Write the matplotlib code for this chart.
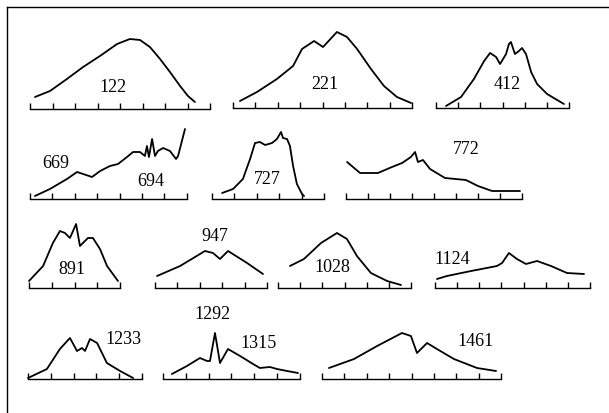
import matplotlib
matplotlib.use("Agg")
import matplotlib.pyplot as plt
from matplotlib.lines import Line2D

# curve values: x in tick intervals along each axis, y = height above the axis
x122 = [0.22, 0.89, 1.64, 2.36, 3.11, 3.87, 4.44, 4.89, 5.33, 5.78, 6.22, 6.67, 7.02, 7.33]
y122 = [12, 18, 30, 42, 53, 65, 70, 69, 62, 50, 37, 23, 13, 7]

x221 = [0.31, 1.07, 1.96, 2.68, 3.08, 3.62, 4.02, 4.64, 5.09, 5.54, 6.16, 6.74, 7.32, 7.95]
y221 = [7, 16, 29, 42, 59, 67, 61, 76, 71, 59, 39, 22, 11, 5]

x412 = [0.45, 1.13, 1.71, 2.17, 2.44, 2.71, 2.89, 3.16, 3.29, 3.38, 3.56, 3.74, 3.88, 4.06, 4.29, 4.56, 5.01, 5.77]
y412 = [2, 11, 29, 47, 55, 51, 44, 54, 64, 66, 54, 57, 60, 54, 36, 24, 14, 4]

x669 = [0.22, 0.89, 1.65, 2.1, 2.37, 2.77, 3.13, 3.57, 3.93, 4.33, 4.6, 4.91, 5.13, 5.22,
        5.31, 5.45, 5.58, 5.71, 5.94, 6.25, 6.52, 6.61, 6.92]
y669 = [3, 10, 20, 27, 25, 22, 28, 33, 35, 42, 47, 47, 43, 53, 42, 60, 43, 48, 51, 48, 40, 43, 70]

x727 = [0.45, 0.94, 1.38, 1.7, 1.92, 2.14, 2.37, 2.68, 2.9, 3.08, 3.17, 3.35, 3.48, 3.62, 3.79, 4.02, 4.11]
y727 = [6, 10, 20, 40, 56, 57, 54, 56, 60, 67, 61, 60, 53, 33, 15, 5, 3]

x772 = [0.05, 0.64, 1.45, 2.09, 2.55, 2.95, 3.14, 3.27, 3.5, 3.82, 4.5, 5.45, 6.0, 6.64, 7.09, 7.91]
y772 = [37, 26, 26, 32, 36, 42, 47, 37, 39, 30, 21, 19, 13, 8, 8, 8]

x891 = [0.0, 0.62, 1.05, 1.36, 1.58, 1.8, 2.07, 2.24, 2.59, 2.81, 3.12, 3.43, 3.91]
y891 = [7, 22, 45, 57, 55, 50, 64, 42, 50, 50, 39, 22, 7]

x947 = [0.09, 1.12, 2.23, 2.59, 2.9, 3.26, 4.11, 4.82]
y947 = [12, 22, 37, 35, 29, 37, 25, 14]

x1028 = [0.54, 1.17, 1.94, 2.66, 3.11, 3.56, 4.19, 4.92, 5.55]
y1028 = [22, 29, 45, 55, 49, 32, 15, 7, 3]

x1124 = [0.09, 0.54, 1.63, 2.8, 3.03, 3.34, 3.7, 4.11, 4.61, 5.24, 5.96, 6.73]
y1124 = [9, 12, 17, 22, 25, 35, 29, 24, 27, 22, 15, 14]

x1233 = [0.0, 0.83, 1.4, 1.84, 2.15, 2.37, 2.5, 2.72, 3.03, 3.46, 4.04, 4.61]
y1233 = [1, 10, 30, 41, 28, 31, 28, 40, 36, 16, 8, 1]

x1315 = [0.39, 1.05, 1.62, 1.93, 2.06, 2.28, 2.5, 2.85, 3.38, 3.95, 4.25, 4.69, 5.0, 5.44, 5.92]
y1315 = [5, 13, 21, 18, 18, 46, 16, 30, 23, 15, 11, 12, 10, 8, 6]

x1461 = [0.31, 1.43, 2.46, 3.57, 3.97, 4.24, 4.69, 5.13, 5.89, 6.92, 7.77]
y1461 = [11, 20, 33, 46, 43, 26, 36, 30, 20, 11, 8]

# labels: text, x (tick units), height
lab122 = [("122", 3.69, 22)]
lab221 = [("221", 4.1, 24)]
lab412 = [("412", 3.2, 24)]
lab669 = [("669", 1.16, 37), ("694", 5.4, 18)]
lab727 = [("727", 2.46, 20)]
lab772 = [("772", 5.45, 50)]
lab891 = [("891", 1.89, 20)]
lab947 = [("947", 2.68, 52)]
lab1028 = [("1028", 2.44, 22)]
lab1124 = [("1124", 0.77, 29)]
lab1233 = [("1233", 4.17, 40)]
lab1315 = [("1292", 2.19, 65), ("1315", 4.17, 36)]
lab1461 = [("1461", 6.87, 38)]

W, H = 609, 414
fig = plt.figure(figsize=(W / 100, H / 100), dpi=100)

# layout (pixels): left, n ticks, tick spacing, baseline y
panels = [
    (30, 9, 22.5, 110, x122, y122, lab122),
    (233, 9, 22.4, 109, x221, y221, lab221),
    (436, 7, 22.17, 109, x412, y412, lab412),
    (30, 8, 22.4, 200, x669, y669, lab669),
    (212, 6, 22.4, 200, x727, y727, lab727),
    (346, 9, 22.0, 200, x772, y772, lab772),
    (29, 5, 22.75, 289, x891, y891, lab891),
    (155, 6, 22.4, 289, x947, y947, lab947),
    (278, 7, 22.17, 289, x1028, y1028, lab1028),
    (435, 8, 22.14, 289, x1124, y1124, lab1124),
    (28, 6, 22.8, 380, x1233, y1233, lab1233),
    (163, 7, 22.8, 380, x1315, y1315, lab1315),
    (322, 9, 22.4, 380, x1461, y1461, lab1461),
]

AH = 80  # axes height in pixels
for left, nt, sp, base, xs, ys, labs in panels:
    width = (nt - 1) * sp
    ax = fig.add_axes([left / W, (H - base) / H, width / W, AH / H])
    ax.set_xlim(0, nt - 1)
    ax.set_ylim(0, AH)
    ax.patch.set_visible(False)
    for s in ["top", "left", "right"]:
        ax.spines[s].set_visible(False)
    ax.spines["bottom"].set_linewidth(1.0)
    ax.set_xticks(range(nt))
    ax.set_xticklabels([])
    ax.set_yticks([])
    ax.tick_params(axis="x", direction="in", length=4.5, width=1.0)
    ax.plot(xs, ys, color="black", lw=1.3, clip_on=False,
            solid_joinstyle="round", solid_capstyle="round")
    for t, tx, ty in labs:
        ax.text(tx, ty, t, ha="center", va="center", fontsize=13,
                family="Liberation Serif", color="black")

# frame of the scanned figure
fig.add_artist(Line2D([7 / W, 1.0], [1 - 8 / H, 1 - 8 / H], color="black", lw=1.0))
fig.add_artist(Line2D([7 / W, 7 / W], [0.0, 1 - 8 / H], color="black", lw=1.0))

fig.savefig("out.png", dpi=100)
